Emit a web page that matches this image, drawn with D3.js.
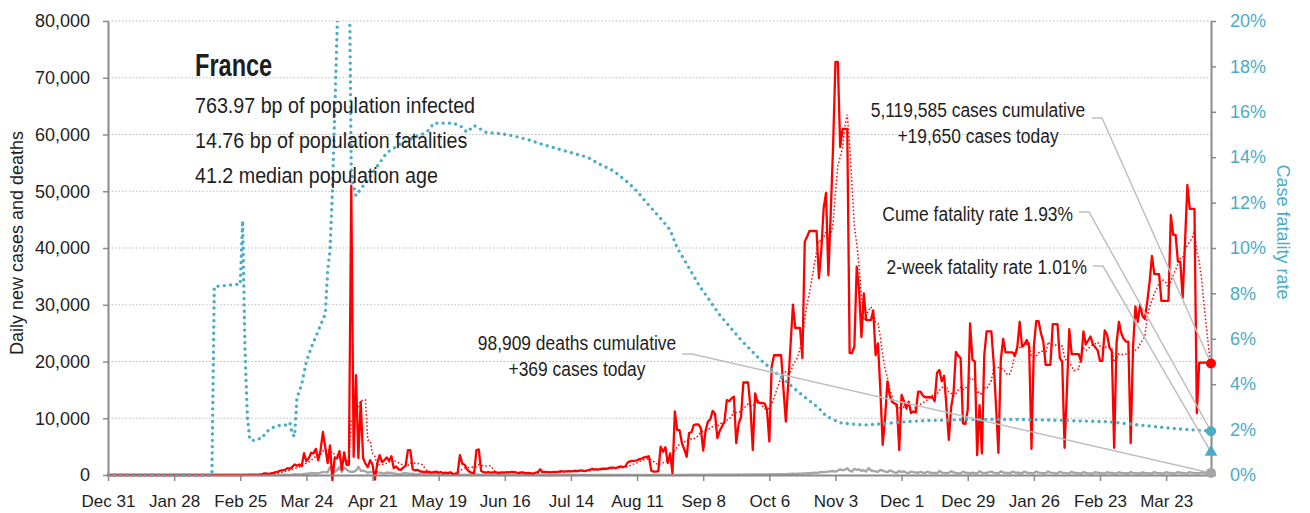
<!DOCTYPE html>
<html>
<head>
<meta charset="utf-8">
<script src="https://cdn.jsdelivr.net/npm/d3@7"></script>
<style>
  body { margin: 0; background: #fff; }
  svg text { fill: #1e1e1e; font-family: "Liberation Sans", Arial, sans-serif; }
</style>
</head>
<body>
<div id="chart"></div>
<script>
// set the dimensions and margins of the graph
const margin = { top: 21, right: 99, bottom: 38, left: 108 },
  width = 1310 - margin.left - margin.right,
  height = 513 - margin.top - margin.bottom;

// daily new cases, one array per calendar month (first value is Dec 31 2019)
const casesDec19 = [0];
const casesJan20 = [0,0,0,0,0,0,0,0,0,0,0,0,0,0,0,0,0,0,0,0,0,0,0,0,0,0,0,0,0,0,0];
const casesFeb20 = [0,0,0,0,0,0,0,0,0,0,0,0,0,0,0,0,0,0,0,0,0,0,0,0,2,4,20,19,43];
const casesMar20 = [30,61,13,81,92,276,296,177,286,372,497,595,785,838,924,1210,1097,1404,1861,1617,1847,1559,3838,2446,2931,3922,3809,4611,2599,4376,7578];
const casesApr20 = [4861,2116,5233,-900,3100,2900,4200,900,4000,1800,1800,51000,3200,17600,3000,12900,3000,2000,1400,2600,1800,-800,2000,3500,2300,2600,3100,2500,3300,1200];
const casesMay20 = [1500,1000,900,1300,1600,4400,4400,1000,800,900,700,600,500,600,500,400,500,600,400,500,300,400,300,500,100,200,300,3500,2000,1800,1000];
const casesJun20 = [600,400,300,4400,4500,700,500,400,500,400,450,500,350,400,450,420,500,480,550,500,400,350,450,400,300,350,300,250,400,500];
const casesJul20 = [1000,500,550,500,450,500,550,500,600,700,600,650,700,650,700,750,700,800,750,700,800,900,1100,1000,1000,1000,1100,1100,1100,1200,1300];
const casesAug20 = [1300,1200,1400,1500,1400,1500,2200,2400,2500,2500,2600,2800,2900,3100,3200,3300,800,600,600,700,5000,4100,4900,2100,3800,300,11200,7900,7900,5600,4500];
const casesSep20 = [3200,7400,7500,8800,8900,8900,8300,4300,7800,9400,9800,11300,10800,6500,7800,8600,9400,13200,13000,13500,13800,5600,9000,10200,16300,16300,16300,12000,4400,14400];
const casesOct20 = [12800,12700,12700,12600,11500,5900,19100,21100,21100,21100,21100,15000,9400,16000,23000,30000,25900,25900,25900,20600,41100,42000,43000,43000,43000,43000,34700,39600,47000,49700,35200];
const casesNov20 = [46100,58000,72800,72800,57800,61000,61000,61000,21500,21500,22600,36700,32600,24300,32000,27300,27300,27300,29000,21100,23200,15000,5300,10000,16500,14000,12900,12600,12400,4400];
const casesDec20 = [14100,13000,11800,12900,10900,11200,11000,14700,14700,14000,13700,13700,13700,13700,13000,18000,18500,16500,17500,12000,6200,12000,14500,21700,21000,20600,9100,9000,11500,26700,20300];
const casesJan21 = [20000,3500,12300,3800,21100,25300,25300,25300,19700,12000,3900,20300,24000,21600,21600,21600,21600,21000,22600,27000,22600,23000,23800,22600,4600,22600,27100,27100,25000,23500,19400];
const casesFeb21 = [19400,19400,26600,26600,26600,20600,20000,4800,15000,25700,21300,21300,21300,21300,20000,25300,23000,23700,24400,23000,22500,22000,20100,20100,25500,24700,22500,21800];
const casesMar21 = [4800,23200,27000,25000,24000,23500,23500,5600,22600,29700,27000,30000,28000,27500,30500,34000,38600,35400,35400,35400,30700,30700,30700,30700,45800,42300,42300,37600,37600,31200,41000];
const casesApr21 = [51100,46900,46900,46900,10900,19800,19800,19800,19800,19800,19650];

// daily deaths, same layout
const deathsDec19 = [0];
const deathsJan20 = [0,0,0,0,0,0,0,0,0,0,0,0,0,0,0,0,0,0,0,0,0,0,0,0,0,0,0,0,0,0,0];
const deathsFeb20 = [0,0,0,0,0,0,0,0,0,0,0,0,0,1,0,0,0,0,0,0,0,0,0,0,0,1,0,0,0];
const deathsMar20 = [0,0,0,0,0,2,0,2,11,3,15,13,18,12,36,21,27,69,128,78,112,112,186,240,231,365,299,319,292,418,499];
const deathsApr20 = [509,471,1355,1120,518,833,1417,541,1341,987,635,561,574,762,1438,753,761,642,395,547,531,544,516,389,369,242,437,367,427,289];
const deathsMay20 = [218,166,135,306,330,278,178,243,80,70,263,348,83,351,104,96,125,185,90,74,83,66,52,57,31,65,35,43,28,55,31];
const deathsJun20 = [31,107,81,44,46,13,28,27,24,29,111,28,28,10,14,11,28,14,26,21,24,9,29,15,17,12,11,27,29,11];
const deathsJul20 = [13,18,8,25,4,17,7,14,10,14,12,9,18,14,7,8,10,14,13,14,11,9,15,8,14,12,17,11,10,9,10];
const deathsAug20 = [12,14,10,9,11,15,10,14,17,12,11,16,17,13,11,9,13,16,14,12,15,20,22,19,14,17,24,16,12,21,24];
const deathsSep20 = [30,35,28,34,31,25,30,36,40,43,38,35,45,50,52,48,55,60,58,57,62,70,75,65,68,80,72,78,85,90];
const deathsOct20 = [80,95,88,100,110,120,105,130,140,125,150,160,145,170,190,210,200,230,250,260,280,300,320,350,420,380,450,520,500,560,600];
const deathsNov20 = [650,700,580,800,1000,850,900,1200,750,600,1100,900,1000,700,850,600,1200,800,700,650,550,900,750,600,500,800,650,450,400,700];
const deathsDec20 = [500,650,400,350,600,500,450,380,550,420,350,600,400,380,350,300,700,420,380,320,380,650,450,350,300,280,600,400,350,300,420];
const deathsJan21 = [350,300,650,400,380,320,500,600,420,350,300,650,450,380,350,300,600,450,400,350,300,600,420,380,330,300,620,420,380,320,300];
const deathsFeb21 = [600,420,380,320,290,550,400,380,320,290,560,380,350,300,270,500,380,330,290,260,500,380,350,300,270,480,380,350];
const deathsMar21 = [300,270,480,380,340,300,260,500,380,330,300,280,450,380,330,300,280,500,380,330,300,280,480,380,350,300,280,520,400,350,300];
const deathsApr21 = [280,500,380,350,300,320,450,400,370,330,369];

// cumulative case fatality rate (%): day number since Dec 31 2019 and value
const rateDay = [0,44,45,55,56,57,58,59,60,61,63,65,67,70,73,76,77,78,79,80,82,84,86,88,90,92,93,94,95,96,97,98,102,103,104,105,107,110,114,118,124,128,135,138,146,149,152,155,160,169,177,186,196,203,208,214,220,224,228,234,238,241,245,250,259,268,276,285,293,301,304,310,320,328,338,347,366,386,399,423,437,451,467];
const rateValue = [0,0,8.3,8.4,8.4,11.2,5.5,2.6,1.6,1.5,1.6,1.6,1.9,2.1,2.2,2.2,2.3,1.8,1.7,3.4,4.0,5.0,5.6,6.1,6.6,7.1,9.0,9.9,12.5,16,19.6,24,24,13.4,12.7,12.3,12.6,13.0,13.6,14.2,14.6,14.8,15.1,15.5,15.5,15.4,15.1,15.4,15.1,15.0,14.8,14.5,14.2,14.0,13.7,13.4,12.9,12.5,12.0,11.3,10.8,10.0,9.3,8.4,7.05,5.95,5.1,4.3,3.6,2.94,2.6,2.3,2.2,2.26,2.35,2.4,2.45,2.45,2.42,2.35,2.2,2.05,1.93];

// x axis tick dates
const tickDates = ["2019-12-31","2020-01-28","2020-02-25","2020-03-24","2020-04-21","2020-05-19","2020-06-16","2020-07-14","2020-08-11","2020-09-08","2020-10-06","2020-11-03","2020-12-01","2020-12-29","2021-01-26","2021-02-23","2021-03-23"];
const leftTicks = [0,10000,20000,30000,40000,50000,60000,70000,80000];
const rightTicks = [0,0.02,0.04,0.06,0.08,0.10,0.12,0.14,0.16,0.18,0.20];

// figures quoted in the texts
const country = "France";
const bpInfected = 763.97, bpFatalities = 14.76, medianAge = 41.2;
const cumCases = 5119585, todayCases = 19650;
const cumDeaths = 98909, todayDeaths = 369;
const cumeRate = 0.0193, twoWeekRate = 0.0101;

const start = new Date(2019, 11, 31);
const cases = [].concat(casesDec19, casesJan20, casesFeb20, casesMar20, casesApr20, casesMay20, casesJun20,
  casesJul20, casesAug20, casesSep20, casesOct20, casesNov20, casesDec20, casesJan21, casesFeb21, casesMar21, casesApr21);
const deaths = [].concat(deathsDec19, deathsJan20, deathsFeb20, deathsMar20, deathsApr20, deathsMay20, deathsJun20,
  deathsJul20, deathsAug20, deathsSep20, deathsOct20, deathsNov20, deathsDec20, deathsJan21, deathsFeb21, deathsMar21, deathsApr21);
const lastDay = cases.length - 1;

// 7-day trailing average of cases
const avg7 = cases.map(function (d, i) { return i < 6 ? null : d3.mean(cases.slice(i - 6, i + 1)); });

let svg = d3.select("#chart").append("svg")
  .attr("width", width + margin.left + margin.right)
  .attr("height", height + margin.top + margin.bottom);

let g = svg.append("g")
  .attr("transform", "translate(" + margin.left + "," + margin.top + ")");

const day = function (i) { return d3.timeDay.offset(start, i); };

let x = d3.scaleTime()
  .domain([start, day(lastDay)])
  .range([0, width]);

let y = d3.scaleLinear()
  .domain([0, 80000])
  .range([height, 0]);

let yR = d3.scaleLinear()
  .domain([0, 0.20])
  .range([height, 0]);

// gridlines
g.append("g")
  .selectAll("line")
  .data(leftTicks.slice(1))
  .enter().append("line")
    .attr("x1", 0)
    .attr("x2", width)
    .attr("y1", function (d) { return y(d); })
    .attr("y2", function (d) { return y(d); })
    .style("stroke", "#bcbcbc")
    .style("stroke-width", 1.2)
    .style("stroke-dasharray", "1.5,2");

// clip so the off-scale fatality rate stays inside
g.append("clipPath").attr("id", "plotclip")
  .append("rect")
    .attr("x", -2).attr("y", 0)
    .attr("width", width + 4).attr("height", height + 7);

let plot = g.append("g").attr("clip-path", "url(#plotclip)");

let lineLeft = d3.line()
  .defined(function (d) { return d != null; })
  .x(function (d, i) { return x(day(i)); })
  .y(function (d) { return y(d); });

// deaths
plot.append("path")
  .datum(deaths)
  .attr("d", lineLeft)
  .style("fill", "none")
  .style("stroke", "#a6a6a6")
  .style("stroke-width", 2.4)
  .style("stroke-linejoin", "round");

// cases
plot.append("path")
  .datum(cases)
  .attr("d", lineLeft)
  .style("fill", "none")
  .style("stroke", "#ff0000")
  .style("stroke-width", 2.3)
  .style("stroke-linejoin", "round");

// 7-day average
plot.append("path")
  .datum(avg7)
  .attr("d", lineLeft)
  .style("fill", "none")
  .style("stroke", "#ff0000")
  .style("stroke-width", 1.5)
  .style("stroke-dasharray", "1.5,2.2");

// case fatality rate
let rate = rateDay.map(function (d, i) { return { date: day(d), v: rateValue[i] / 100 }; });
plot.append("path")
  .datum(rate)
  .attr("d", d3.line()
    .x(function (d) { return x(d.date); })
    .y(function (d) { return yR(d.v); }))
  .style("fill", "none")
  .style("stroke", "#4bacc6")
  .style("stroke-width", 3.4)
  .style("stroke-linecap", "round")
  .style("stroke-dasharray", "0,6.3");

// axes
let axisColor = "#8a8a8a";

let left = g.append("g")
  .call(d3.axisLeft(y).tickValues(leftTicks).tickFormat(d3.format(",")).tickSize(5).tickSizeOuter(0).tickPadding(13));
left.selectAll("text").style("font-size", "18px");

let right = g.append("g")
  .attr("transform", "translate(" + width + ",0)")
  .call(d3.axisRight(yR).tickValues(rightTicks).tickFormat(d3.format(".0%")).tickSize(5).tickSizeOuter(0).tickPadding(14));
right.selectAll("text").style("font-size", "18px").style("fill", "#4bacc6");

let parseDate = d3.timeParse("%Y-%m-%d");
let bottom = g.append("g")
  .attr("transform", "translate(0," + height + ")")
  .call(d3.axisBottom(x).tickValues(tickDates.map(parseDate)).tickFormat(d3.timeFormat("%b %-d")).tickSize(6).tickSizeOuter(0).tickPadding(14));
bottom.selectAll("text").style("font-size", "17px");

[left, right, bottom].forEach(function (a) {
  a.selectAll("text").style("font-family", "'Liberation Sans', Arial, sans-serif");
  a.select(".domain").style("stroke", axisColor).style("stroke-width", 2);
  a.selectAll(".tick line").style("stroke", axisColor).style("stroke-width", 1.5);
});

// axis titles
svg.append("text")
  .attr("transform", "translate(23," + (margin.top + 222) + ") rotate(-90)")
  .attr("text-anchor", "middle")
  .style("font-size", "18px")
  .text("Daily new cases and deaths");

svg.append("text")
  .attr("transform", "translate(1277," + (margin.top + 211) + ") rotate(90)")
  .attr("text-anchor", "middle")
  .style("font-size", "18px")
  .style("fill", "#4bacc6")
  .text("Case fatality rate");

// condensed text: no narrow face is installed, so squeeze horizontally
function narrowText(parent, t, tx, ty, size, squeeze, anchor) {
  return parent.append("text")
    .attr("transform", "translate(" + tx + "," + ty + ") scale(" + squeeze + ",1)")
    .attr("text-anchor", anchor || "start")
    .style("font-size", size + "px")
    .text(t);
}

// country block
narrowText(svg, country, 195, 76, 31, 0.76).style("font-weight", "bold");

let info = [
  d3.format(".2f")(bpInfected) + " bp of population infected",
  d3.format(".2f")(bpFatalities) + " bp of population fatalities",
  d3.format(".1f")(medianAge) + " median population age"
];
info.forEach(function (t, i) { narrowText(svg, t, 195, 113 + i * 35, 22.5, 0.875); });

// annotations with leader lines (svg coordinates)
let endDate = day(lastDay);
let ex = x(endDate);

let notes = [
  { lines: [d3.format(",")(cumCases) + " cases cumulative", "+" + d3.format(",")(todayCases) + " cases today"],
    tx: 978, ty: 117, lx: 1092, ly: 118, target: [ex, y(todayCases)] },
  { lines: ["Cume fatality rate " + d3.format(".2%")(cumeRate)],
    tx: 1073, ty: 221, lx: 1079, ly: 212, target: [ex, yR(cumeRate)], anchor: "end" },
  { lines: ["2-week fatality rate " + d3.format(".2%")(twoWeekRate)],
    tx: 1087, ty: 274, lx: 1093, ly: 266, target: [ex, yR(twoWeekRate)], anchor: "end" },
  { lines: [d3.format(",")(cumDeaths) + " deaths cumulative", "+" + todayDeaths + " cases today"],
    tx: 577, ty: 350, lx: 682, ly: 354, target: [ex, y(todayDeaths)] }
];

notes.forEach(function (n) {
  svg.append("path")
    .attr("d", "M" + n.lx + "," + n.ly + "H" + (n.lx + 10) +
      "L" + (n.target[0] + margin.left) + "," + (n.target[1] + margin.top))
    .style("fill", "none")
    .style("stroke", "#bfbfbf")
    .style("stroke-width", 1.5);
  n.lines.forEach(function (t, i) {
    narrowText(svg, t, n.tx, n.ty + i * 26, 21, 0.83, n.anchor || "middle");
  });
});

// end markers, on top of the leader lines
let markers = svg.append("g")
  .attr("transform", "translate(" + margin.left + "," + margin.top + ")");
markers.append("circle")
  .attr("cx", ex).attr("cy", y(todayCases)).attr("r", 5)
  .style("fill", "#ff0000");
markers.append("circle")
  .attr("cx", ex).attr("cy", yR(cumeRate)).attr("r", 5)
  .style("fill", "#4bacc6");
markers.append("path")
  .attr("transform", "translate(" + ex + "," + yR(twoWeekRate) + ")")
  .attr("d", d3.symbol().type(d3.symbolTriangle).size(70))
  .style("fill", "#4bacc6");
markers.append("circle")
  .attr("cx", ex).attr("cy", y(todayDeaths)).attr("r", 5)
  .style("fill", "#a6a6a6");
</script>
</body>
</html>
